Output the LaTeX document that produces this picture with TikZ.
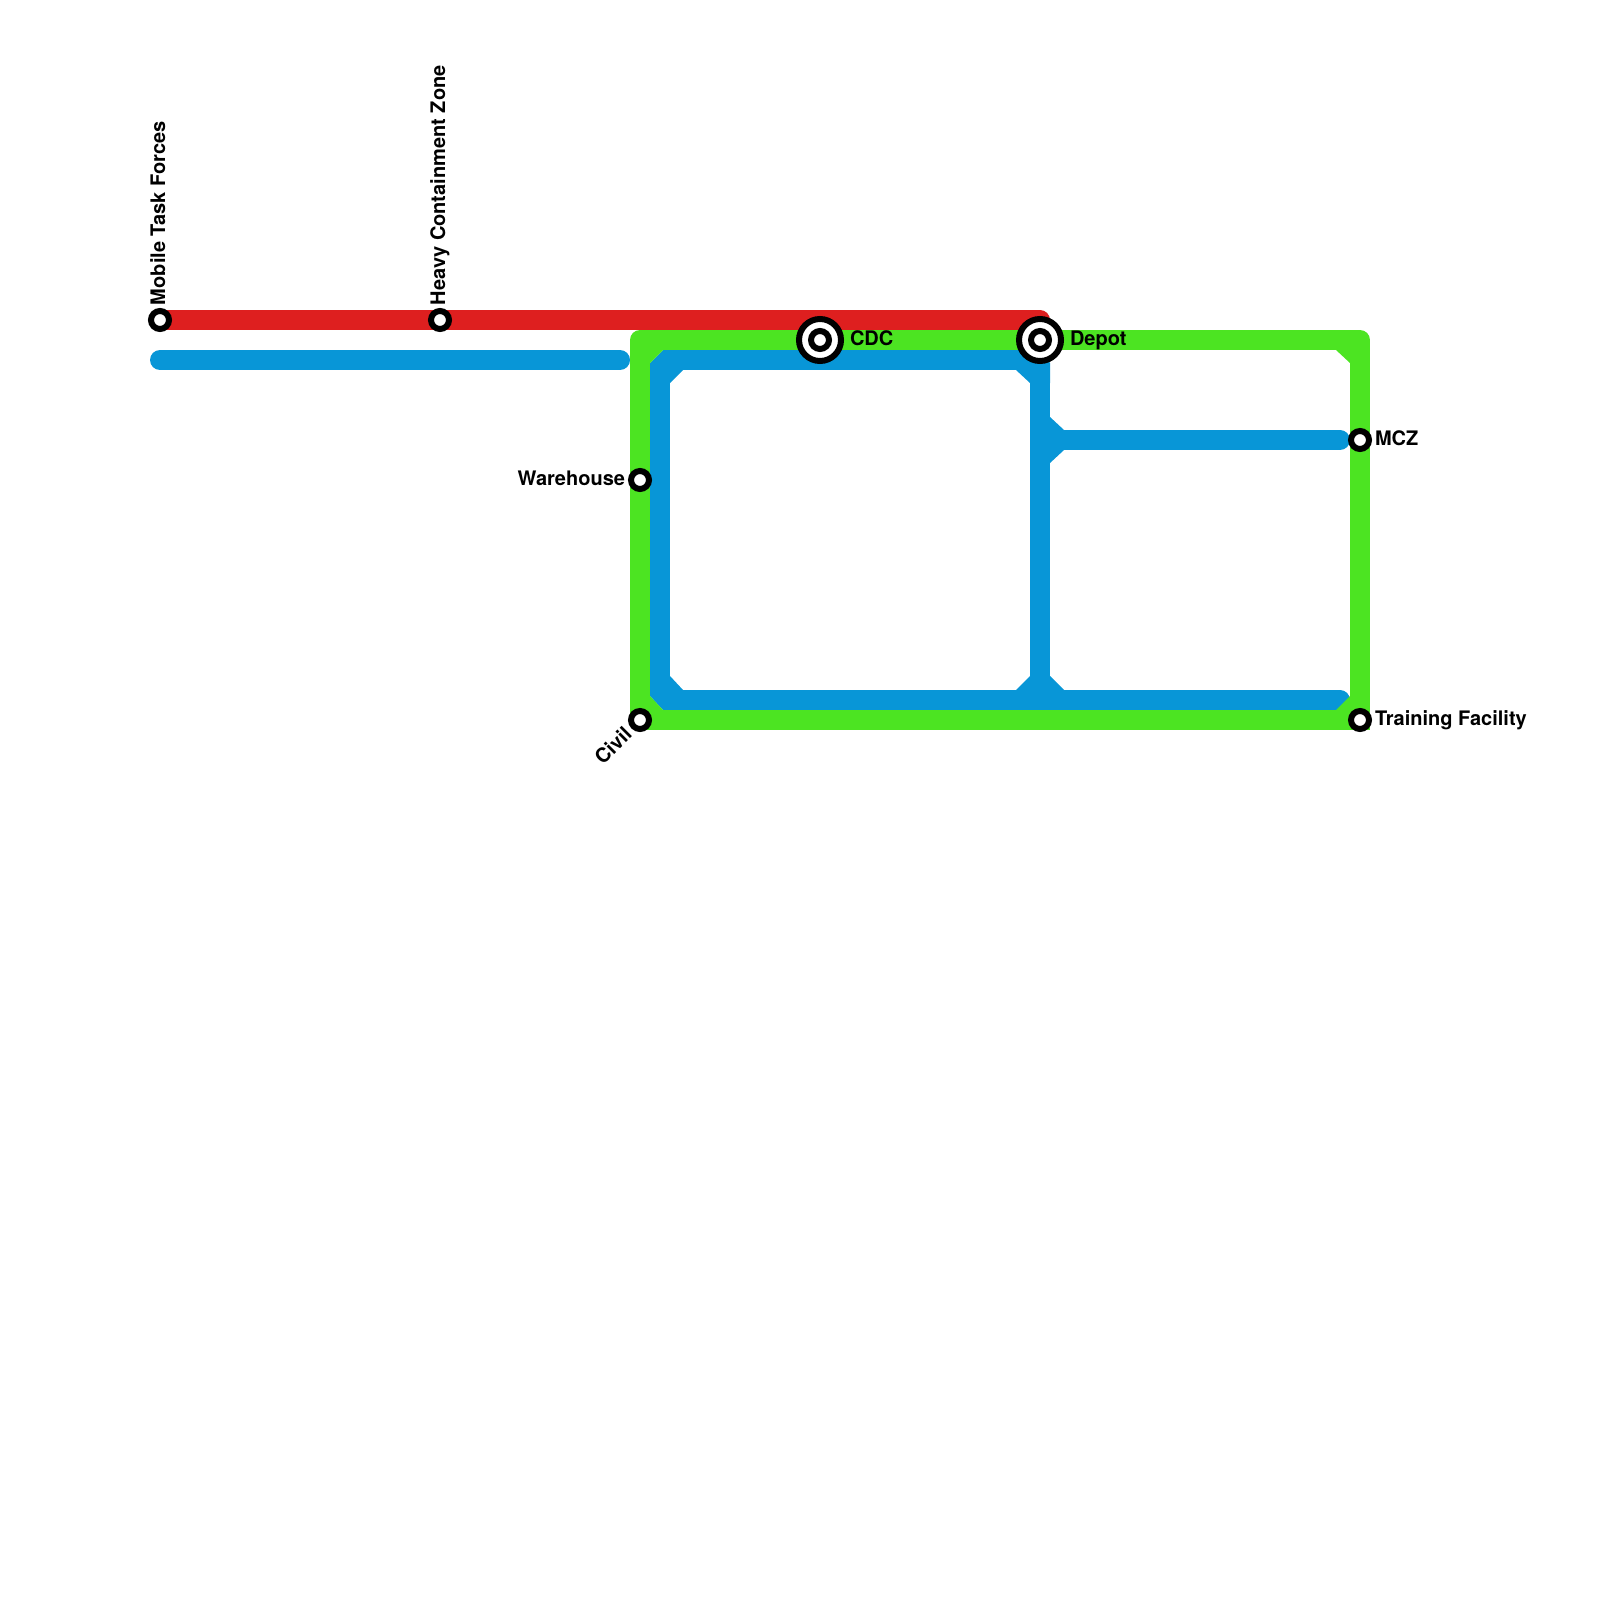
\documentclass[tikz,border=0pt]{standalone}
\usepackage{fontspec}
\setmainfont{TeX Gyre Heros}
\definecolor{linered}{RGB}{222,31,31}
\definecolor{linegreen}{RGB}{76,228,34}
\definecolor{lineblue}{RGB}{8,150,215}
\tikzset{
  metro/.style={line width=10pt,line join=round,line cap=round},
  redline/.style={metro,draw=linered},
  greenline/.style={metro,draw=linegreen},
  greensquare/.style={greenline,line cap=rect},
  blueline/.style={metro,draw=lineblue},
  bluebutt/.style={blueline,line cap=butt},
  stationring/.style={circle,draw=black,fill=white,line width=3pt,inner sep=0pt,outer sep=0pt,minimum size=9pt},
  bigring/.style={stationring,minimum size=21pt},
  stationlabel/.style={font=\bfseries\fontsize{10pt}{12pt}\selectfont,text=black,inner sep=0pt,outer sep=0pt}
}
\begin{document}
\begin{tikzpicture}[x=0.5pt,y=-0.5pt]
\useasboundingbox[fill=white] (0,0) rectangle (1600,1600);
% station positions
\coordinate (pMtf) at (160,320);
\coordinate (pHcz) at (440,320);
\coordinate (pCdc) at (820,340);
\coordinate (pDepot) at (1040,340);
\coordinate (pWare) at (640,480);
\coordinate (pCivil) at (640,720);
\coordinate (pMcz) at (1360,440);
\coordinate (pTrain) at (1360,720);
% junctions
\coordinate (redEnd) at (1040,320);
\coordinate (gTL) at (640,340);
\coordinate (gTR) at (1360,340);
\coordinate (bStartA) at (160,360);
\coordinate (bEndA) at (620,360);
\coordinate (b1) at (1040,383);
\coordinate (b2) at (1016,360);
\coordinate (b3) at (683,360);
\coordinate (b4) at (660,383);
\coordinate (b5) at (660,676);
\coordinate (b6) at (683,700);
\coordinate (b7) at (1340,700);
\coordinate (b8) at (1040,700);
\coordinate (b9) at (1040,440);
\coordinate (b10) at (1340,440);
% blue
\draw[blueline] (bStartA) -- (bEndA);
\draw[bluebutt] (b2) -- (b3);
\draw[bluebutt] (b4) -- (b5);
\draw[blueline] (b6) -- (b7);
\draw[bluebutt] (b1) -- (b8);
\draw[blueline] (b9) -- (b10);
\fill[lineblue] (650,363) -- (663,350) -- (683,350) -- (683,370) -- (670,383) -- (650,383) -- cycle;
\fill[lineblue] (1016,350) -- (1037,350) -- (1050,363) -- (1050,383) -- (1030,383) -- (1016,370) -- cycle;
\fill[lineblue] (650,676) -- (670,676) -- (683,690) -- (683,710) -- (663,710) -- (650,696) -- cycle;
\fill[lineblue] (1050,417) -- (1064,430) -- (1064,450) -- (1050,463) -- cycle;
\fill[lineblue] (1016,690) -- (1030,676) -- (1050,676) -- (1064,690) -- (1064,700) -- (1016,700) -- cycle;
% green
\draw[greenline] (pCivil) -- (gTL) -- (pCdc) -- (pDepot) -- (gTR) -- (pMcz);
\draw[greensquare] (pMcz) -- (pTrain);
\draw[greenline] (pTrain) -- (pCivil);
\fill[linegreen] (650,350) -- (663,350) -- (650,363) -- cycle;
\fill[linegreen] (1350,350) -- (1336,350) -- (1350,363) -- cycle;
\fill[linegreen] (650,710) -- (663,710) -- (650,696) -- cycle;
\fill[linegreen] (1350,710) -- (1336,710) -- (1350,696) -- cycle;
% red
\draw[redline] (pMtf) -- (pHcz) -- (redEnd);
% stations
\node[stationring] (sMtf) at (pMtf) {};
\node[stationring] (sHcz) at (pHcz) {};
\node[stationring] (sWare) at (pWare) {};
\node[stationring] (sCivil) at (pCivil) {};
\node[stationring] (sMcz) at (pMcz) {};
\node[stationring] (sTrain) at (pTrain) {};
\node[bigring] (sCdcO) at (pCdc) {};
\node[stationring] (sCdc) at (pCdc) {};
\node[bigring] (sDepotO) at (pDepot) {};
\node[stationring] (sDepot) at (pDepot) {};
% labels
\node[stationlabel,anchor=base west,rotate=90] (lMtf) at (165,305) {Mobile Task Forces};
\node[stationlabel,anchor=base west,rotate=90] (lHcz) at (445,305) {Heavy Containment Zone};
\node[stationlabel,anchor=base west] (lCdc) at (850,345) {CDC};
\node[stationlabel,anchor=base west] (lDepot) at (1070,345) {Depot};
\node[stationlabel,anchor=base east] (lWare) at (625,485) {Warehouse};
\node[stationlabel,anchor=base east,rotate=45] (lCivil) at (633,736) {Civil};
\node[stationlabel,anchor=base west] (lMcz) at (1375,445) {MCZ};
\node[stationlabel,anchor=base west] (lTrain) at (1375,725) {Training Facility};
\end{tikzpicture}
\end{document}
